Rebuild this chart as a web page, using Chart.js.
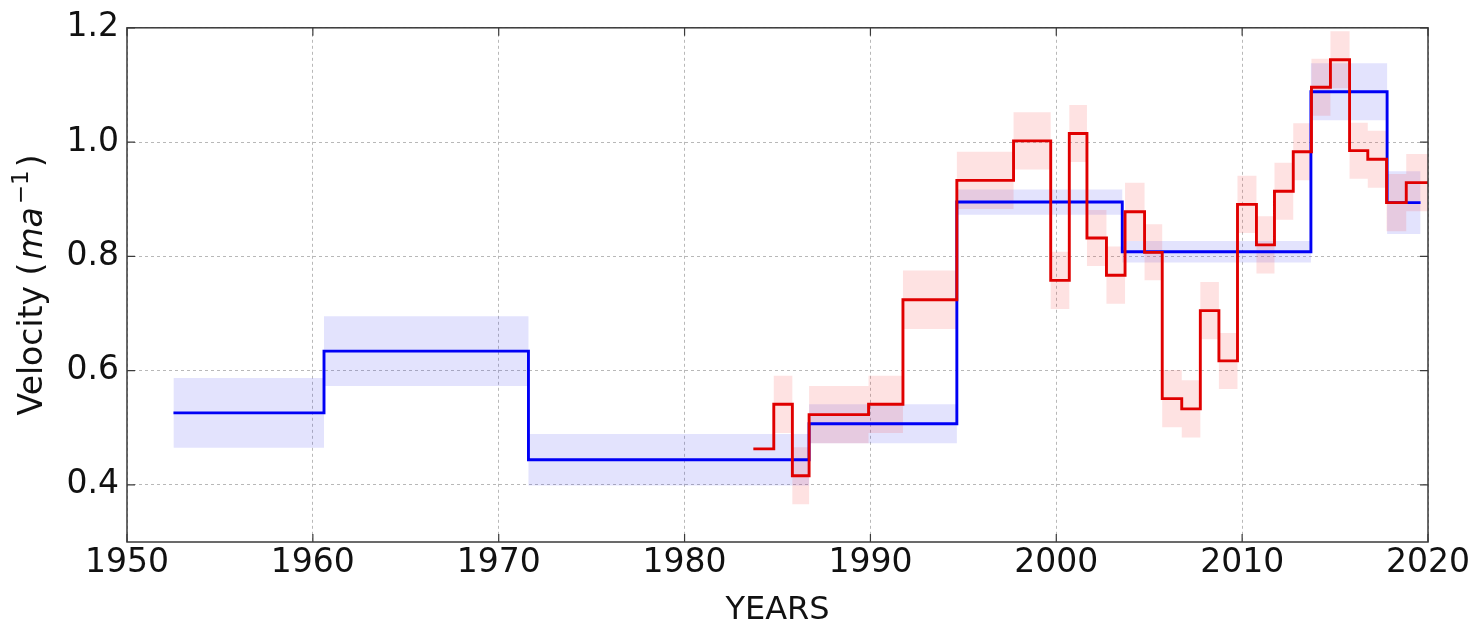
<!DOCTYPE html>
<html>
<head>
<meta charset="utf-8">
<script src="https://cdn.jsdelivr.net/npm/chart.js@4"></script>
<style>
  html, body { margin: 0; padding: 0; background: #ffffff; }
  #wrap { width: 1481px; height: 627px; }
</style>
</head>
<body>
<div id="wrap"><canvas id="c" width="1481" height="627"></canvas></div>
<script>
// ---- Data ----
// Blue series: segment edges (years), step values and half-widths of the shaded band
const blueEdges = [1952.5, 1960.6, 1971.6, 1986.7, 1994.65, 2003.55, 2013.7, 2017.8, 2019.6];
const blueVel   = [0.526, 0.634, 0.444, 0.507, 0.895, 0.808, 1.088, 0.894];
const blueErr   = [0.061, 0.061, 0.045, 0.034, 0.022, 0.019, 0.050, 0.055];

// Red series
const redEdges = [1983.7, 1984.8, 1985.8, 1986.7, 1989.9, 1991.75, 1994.65, 1997.7, 1999.7, 2000.7,
                  2001.65, 2002.7, 2003.7, 2004.75, 2005.7, 2006.75, 2007.75, 2008.75, 2009.75, 2010.77,
                  2011.74, 2012.75, 2013.73, 2014.75, 2015.78, 2016.76, 2017.77, 2018.83, 2020.0];
const redVel   = [0.463, 0.541, 0.416, 0.523, 0.541, 0.724, 0.933, 1.002, 0.758, 1.015,
                  0.832, 0.767, 0.878, 0.807, 0.551, 0.533, 0.705, 0.617, 0.891, 0.820,
                  0.914, 0.983, 1.096, 1.144, 0.985, 0.970, 0.894, 0.929];
const redErr   = [0.000, 0.050, 0.050, 0.050, 0.050, 0.051, 0.050, 0.050, 0.050, 0.050,
                  0.049, 0.050, 0.051, 0.049, 0.050, 0.050, 0.050, 0.049, 0.050, 0.050,
                  0.050, 0.050, 0.050, 0.050, 0.049, 0.050, 0.050, 0.050];

const xTicks = [1950, 1960, 1970, 1980, 1990, 2000, 2010, 2020];
const yTicks = [0.4, 0.6, 0.8, 1.0, 1.2];
const xTitle = 'YEARS';
// y title pieces: [text, style]
const yTitleParts = [['Velocity (', 'normal'], ['ma', 'italic'], ['\u22121', 'sup'], [')', 'normal']];

// ---- Build stepped point lists ----
function steps(edges, vals, off) {
  const pts = vals.map((v, i) => ({ x: edges[i], y: v + (off ? off[i] : 0) }));
  const n = vals.length - 1;
  pts.push({ x: edges[n + 1], y: vals[n] + (off ? off[n] : 0) });
  return pts;
}
const neg = a => a.map(v => -v);

const FONT = 'DejaVu Sans';

const frameTicks = {
  id: 'frameTicks',
  afterDatasetsDraw(chart) {
    const { ctx, chartArea: a, scales } = chart;
    ctx.save();
    ctx.strokeStyle = '#3a3a3a';
    ctx.lineWidth = 1.5;
    ctx.setLineDash([]);
    ctx.strokeRect(a.left, a.top, a.right - a.left, a.bottom - a.top);
    const L = 8;
    ctx.lineWidth = 1.2;
    ctx.beginPath();
    xTicks.forEach(t => {
      const x = scales.x.getPixelForValue(t);
      ctx.moveTo(x, a.bottom); ctx.lineTo(x, a.bottom - L);
      ctx.moveTo(x, a.top); ctx.lineTo(x, a.top + L);
    });
    yTicks.forEach(t => {
      const y = scales.y.getPixelForValue(t);
      ctx.moveTo(a.left, y); ctx.lineTo(a.left + L, y);
      ctx.moveTo(a.right, y); ctx.lineTo(a.right - L, y);
    });
    ctx.stroke();
    ctx.restore();
  },
  afterDraw(chart) {
    // y-axis title with italic unit and superscript exponent
    const { ctx, chartArea: a } = chart;
    const fontFor = st => st === 'italic' ? `italic 33px "${FONT}"` : st === 'sup' ? `23px "${FONT}"` : `33px "${FONT}"`;
    const gap = 3;
    let total = 0;
    const widths = yTitleParts.map(([t, st]) => { ctx.font = fontFor(st); const w = ctx.measureText(t).width; total += w; return w; });
    total += gap * (yTitleParts.length - 1);
    ctx.save();
    ctx.translate(42, (a.top + a.bottom) / 2);
    ctx.rotate(-Math.PI / 2);
    ctx.fillStyle = '#111';
    ctx.textBaseline = 'alphabetic';
    ctx.textAlign = 'left';
    let x = -total / 2;
    yTitleParts.forEach(([t, st], i) => {
      ctx.font = fontFor(st);
      ctx.fillText(t, x, st === 'sup' ? -14 : 0);
      x += widths[i] + gap;
    });
    ctx.restore();
  }
};

const base = { pointRadius: 0, pointHoverRadius: 0, stepped: 'before' };

new Chart(document.getElementById('c'), {
  type: 'line',
  data: {
    datasets: [
      Object.assign({}, base, { label: 'red', data: steps(redEdges, redVel), borderColor: '#e00000', borderWidth: 2.9, fill: false }),
      Object.assign({}, base, { label: 'blue', data: steps(blueEdges, blueVel), borderColor: '#0000f5', borderWidth: 2.9, fill: false }),
      Object.assign({}, base, { label: 'redUp', data: steps(redEdges, redVel, redErr), borderWidth: 0, borderColor: 'rgba(0,0,0,0)', fill: false }),
      Object.assign({}, base, { label: 'redLo', data: steps(redEdges, redVel, neg(redErr)), borderWidth: 0, borderColor: 'rgba(0,0,0,0)', backgroundColor: 'rgba(250,60,60,0.15)', fill: '-1' }),
      Object.assign({}, base, { label: 'blueUp', data: steps(blueEdges, blueVel, blueErr), borderWidth: 0, borderColor: 'rgba(0,0,0,0)', fill: false }),
      Object.assign({}, base, { label: 'blueLo', data: steps(blueEdges, blueVel, neg(blueErr)), borderWidth: 0, borderColor: 'rgba(0,0,0,0)', backgroundColor: 'rgba(70,70,240,0.15)', fill: '-1' })
    ]
  },
  options: {
    responsive: false,
    animation: false,
    events: [],
    layout: { padding: { left: 0, right: 53, top: 22, bottom: 0 } },
    plugins: { legend: { display: false }, tooltip: { enabled: false } },
    scales: {
      x: {
        type: 'linear', min: 1950, max: 2020,
        afterBuildTicks: ax => { ax.ticks = xTicks.map(v => ({ value: v })); },
        afterFit: s => { s.height = 85; },
        ticks: { color: '#111', font: { family: FONT, size: 33 }, padding: 2, maxRotation: 0, autoSkip: false,
                 callback: v => String(v) },
        grid: { color: '#b8b8b8', lineWidth: 1, drawTicks: false },
        border: { display: false, dash: [3, 3] },
        title: { display: true, text: xTitle, color: '#111', font: { family: FONT, size: 32, lineHeight: 1.05 }, padding: { top: 0, bottom: 0 } }
      },
      y: {
        type: 'linear', min: 0.3, max: 1.2,
        afterBuildTicks: ax => { ax.ticks = yTicks.map(v => ({ value: v })); },
        afterFit: s => { s.width = 127; },
        ticks: { color: '#111', font: { family: FONT, size: 33 }, padding: 8,
                 callback: v => v.toFixed(1) },
        grid: { color: '#b8b8b8', lineWidth: 1, drawTicks: false },
        border: { display: false, dash: [3, 3] },
        title: { display: false }
      }
    }
  },
  plugins: [frameTicks]
});
</script>
</body>
</html>
